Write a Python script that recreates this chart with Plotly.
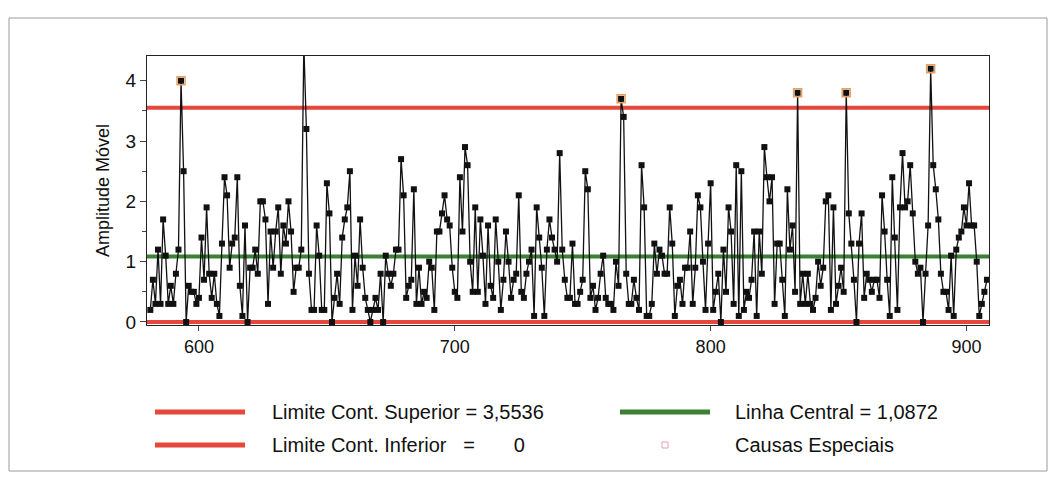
import plotly.graph_objects as go

# ---- data ----
x_start = 581
mr_w1 = [0.2, 0.7, 0.3, 1.2, 0.3, 1.7, 1.1, 0.3, 0.6, 0.3, 0.8, 1.2, 4.0, 2.5, 0.0, 0.6, 0.5, 0.5, 0.3, 0.4,
         1.4, 0.7, 1.9, 0.8, 0.4, 0.8, 0.3, 0.1, 1.3, 2.4, 2.1, 0.9, 1.3, 1.4, 2.4, 0.6, 0.1, 1.6, 0.0, 0.9,
         0.9, 1.2, 0.8]
mr_w2 = [2.0, 2.0, 1.7, 0.3, 1.5, 0.9, 1.5, 1.9, 0.8, 1.6, 1.3, 2.0, 1.5, 0.5, 0.9, 0.9, 1.2, 4.6, 3.2, 0.8,
         0.2, 0.2, 1.6, 1.1, 0.2, 0.2, 2.3, 1.8, 0.0, 0.4, 0.8, 0.3, 1.4, 1.7, 1.9, 2.5, 0.2, 1.1, 0.6, 1.7,
         0.9, 0.4, 0.2]
mr_w3 = [0.0, 0.2, 0.4, 0.2, 0.8, 0.0, 1.1, 0.8, 0.6, 0.8, 1.2, 1.2, 2.7, 2.1, 0.4, 0.6, 0.7, 2.2, 0.3, 0.9,
         0.3, 0.5, 0.4, 1.0, 0.9, 0.2, 1.5, 1.5, 1.8, 2.1, 1.7, 1.6, 0.9, 0.5, 0.4, 2.4, 1.5, 2.9, 2.6, 1.0,
         0.5, 1.9, 0.5, 1.7]
mr_w4 = [1.1, 0.3, 1.6, 0.6, 0.4, 1.7, 1.0, 0.2, 0.7, 1.5, 1.0, 0.4, 0.7, 0.8, 2.1, 0.5, 0.4, 0.8, 1.0, 1.2,
         0.1, 1.9, 1.4, 0.9, 0.1, 1.2, 1.7, 1.4, 1.2, 1.0, 2.8, 1.2, 0.7, 0.4, 0.4, 1.3, 0.3, 0.3, 0.5, 0.7,
         2.5, 2.2]
mr_w5 = [0.4, 0.6, 0.2, 0.4, 0.8, 1.1, 0.4, 0.3, 0.3, 0.2, 1.0, 0.6, 3.7, 3.4, 0.8, 0.3, 0.3, 0.7, 0.4, 0.2,
         2.6, 1.9, 0.1, 0.1, 0.3, 1.3, 0.8, 1.2, 1.1, 0.8, 0.8, 1.9, 1.3, 0.1, 0.6, 0.7, 0.3, 0.9, 0.9, 1.5,
         0.3, 0.9, 2.1, 1.9]
mr_w6 = [1.0, 0.2, 1.3, 2.3, 0.2, 0.5, 0.8, 0.0, 1.2, 0.5, 1.9, 1.5, 0.3, 2.6, 0.1, 2.5, 0.2, 0.5, 0.4, 0.7,
         1.5, 0.1, 1.5, 0.8, 2.9, 2.4, 2.0, 2.4, 0.3, 1.3, 1.3, 0.7, 0.1, 2.2, 1.2, 1.6, 0.5, 3.8, 0.3, 0.8]
mr_w7 = [0.3, 0.8, 0.3, 0.2, 0.4, 1.0, 0.6, 0.9, 2.0, 2.1, 0.2, 1.9, 0.3, 0.6, 0.9, 0.5, 3.8, 1.8, 1.3, 0.7,
         0.0, 1.3, 1.8, 0.4, 0.8, 0.7, 0.5, 0.7, 0.7, 0.4, 2.1, 1.5, 0.7, 0.1, 2.4, 1.4, 0.2, 1.9, 2.8, 1.9,
         2.0, 2.6, 1.8, 1.0, 0.8]
mr_w8 = [0.9, 0.0, 0.8, 1.6, 4.2, 2.6, 2.2, 1.7, 0.8, 0.5, 0.5, 0.2, 1.1, 0.1, 1.2, 1.4, 1.5, 1.9, 1.6, 2.3,
         1.6, 1.6, 1.0, 0.1, 0.3, 0.5, 0.7]

mr = mr_w1 + mr_w2 + mr_w3 + mr_w4 + mr_w5 + mr_w6 + mr_w7 + mr_w8
assert len(mr) == 328
obs = list(range(x_start, x_start + len(mr)))

ucl = 3.5536
cl = 1.0872
lcl = 0.0
x_ticks = [600, 700, 800, 900]
y_ticks = [0, 1, 2, 3, 4]

special_x = [xv for xv, v in zip(obs, mr) if v > ucl]
special_y = [v for v in mr if v > ucl]

FONT = "Liberation Sans, Arial, sans-serif"
RED = "#e4473b"
GREEN = "#3b8034"

fig = go.Figure()

fig.add_trace(go.Scatter(
    x=obs, y=mr, mode="lines+markers",
    line=dict(color="#111111", width=1.3),
    marker=dict(symbol="square", size=6, color="#111111"),
    cliponaxis=True, showlegend=False, hoverinfo="x+y"))

fig.add_trace(go.Scatter(
    x=special_x, y=special_y, mode="markers",
    marker=dict(symbol="square-open", size=8, color="#e8a060", line=dict(width=1.5)),
    cliponaxis=True, showlegend=False))

# control lines (through the y scale)
for yv, col in [(ucl, RED), (lcl, RED), (cl, GREEN)]:
    fig.add_shape(type="line", xref="paper", x0=0, x1=1, yref="y", y0=yv, y1=yv,
                  line=dict(color=col, width=4), layer="below")

# ---- manual legend (positions in screen px; page has an 8px body margin) ----
W, H = 842.0, 269.0
def px(xp):
    return (xp - 147) / W
def py(yp):
    return (325 - yp) / H

for (x0, x1, yy, col) in [(155, 245, 412, RED), (155, 245, 445, RED), (620, 710, 412, GREEN)]:
    fig.add_shape(type="line", xref="paper", yref="paper", x0=px(x0), x1=px(x1), y0=py(yy), y1=py(yy),
                  line=dict(color=col, width=5))
fig.add_shape(type="rect", xref="paper", yref="paper", x0=px(662), x1=px(668), y0=py(448), y1=py(442),
              line=dict(color="#e8a0a8", width=1), fillcolor="white")

legend_texts = [
    (270, 412, "Limite Cont. Superior = 3,5536"),
    (270, 445, "Limite Cont. Inferior \u00a0\u00a0=\u00a0\u00a0\u00a0\u00a0\u00a0\u00a0 0"),
    (733, 412, "Linha Central = 1,0872"),
    (733, 445, "Causas Especiais"),
]
for xx, yy, t in legend_texts:
    fig.add_annotation(xref="paper", yref="paper", x=px(xx), y=py(yy), text=t, showarrow=False,
                       xanchor="left", yanchor="middle", font=dict(family=FONT, size=20, color="#111111"))

# outer frame
fig.add_shape(type="rect", xref="paper", yref="paper", x0=px(9), x1=px(1047), y0=py(471), y1=py(18),
              line=dict(color="#9a9a9a", width=1))

fig.update_layout(
    width=1048, height=472,
    margin=dict(l=139, r=67, t=48, b=155),
    paper_bgcolor="white", plot_bgcolor="white",
    font=dict(family=FONT, size=17, color="#111111"),
    showlegend=False,
)
fig.update_xaxes(range=[579.7, 908.8], tickvals=x_ticks, ticks="outside", ticklen=5,
                 showline=True, linecolor="#222222", linewidth=1, mirror=True,
                 showgrid=False, zeroline=False, tickfont=dict(size=18))
fig.update_yaxes(range=[-0.05, 4.41], tickvals=y_ticks, ticks="outside", ticklen=6,
                 minor=dict(tickvals=[0.5, 1.5, 2.5, 3.5], ticks="outside", ticklen=4),
                 showline=True, linecolor="#222222", linewidth=1, mirror=True,
                 showgrid=False, zeroline=False, tickfont=dict(size=19),
                 title=dict(text="Amplitude Móvel", font=dict(size=18), standoff=11))

fig.write_html("out.html")
